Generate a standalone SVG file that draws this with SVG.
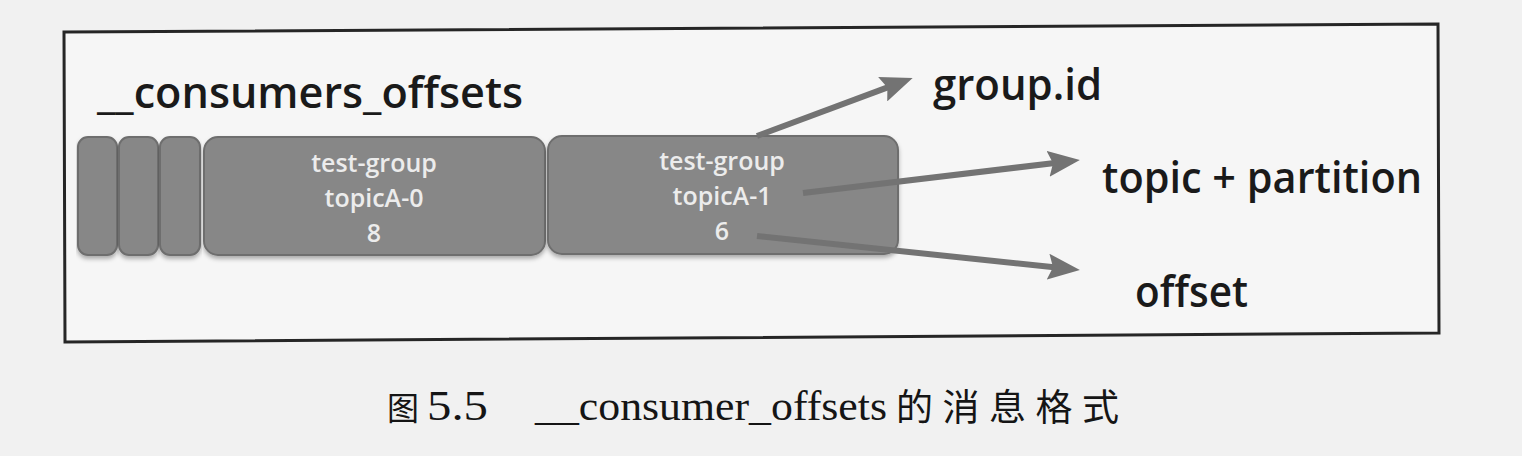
<svg xmlns="http://www.w3.org/2000/svg" width="1522" height="456" viewBox="0 0 1522 456">
  <style>
    .frame { fill: #f6f6f6; stroke: #262626; stroke-width: 3; }
    .blk { fill: #878787; stroke: #6e6e6e; stroke-width: 2; }
    .btxt { font-family: "Open Sans", "Liberation Sans", sans-serif; font-weight: 600; font-size: 25px; fill: #ececec; text-anchor: middle; }
    .lbl { font-family: "Open Sans", "Liberation Sans", sans-serif; font-weight: 600; font-size: 44px; fill: #1a1a1a; }
    .arr { stroke: #737373; stroke-width: 6; fill: none; stroke-linecap: butt; }
    .cap { font-family: "Liberation Serif", "Noto Sans CJK SC", serif; font-size: 43px; fill: #151515; }
    .capcjk { font-family: "Noto Sans CJK SC", "Liberation Serif", serif; fill: #151515; }
  </style>
  <defs>
    <marker id="ah" markerUnits="userSpaceOnUse" viewBox="0 0 32 26" markerWidth="32" markerHeight="26" refX="11" refY="13" orient="auto">
      <path d="M0,0 L32,13 L0,26 L5,13 z" fill="#737373"/>
    </marker>
    <filter id="sh" x="-5%" y="-10%" width="110%" height="130%">
      <feDropShadow dx="0" dy="3" stdDeviation="2" flood-color="#000" flood-opacity="0.3"/>
    </filter>
  </defs>

  <rect x="0" y="0" width="1522" height="456" fill="#f1f1f1"/>

  <g id="frame">
    <polygon class="frame" points="64,32 1438,24 1439,333 65,342"/>
  </g>

  <g id="title">
    <text class="lbl" x="97" y="108" textLength="426" lengthAdjust="spacingAndGlyphs">__consumers_offsets</text>
  </g>

  <g id="seg1" filter="url(#sh)">
    <rect class="blk" x="78" y="137" width="39" height="118" rx="10"/>
  </g>
  <g id="seg2" filter="url(#sh)">
    <rect class="blk" x="119" y="137" width="39" height="118" rx="10"/>
  </g>
  <g id="seg3" filter="url(#sh)">
    <rect class="blk" x="160" y="137" width="40" height="118" rx="10"/>
  </g>

  <g id="msg0">
    <rect class="blk" x="204" y="137" width="341" height="118" rx="14" filter="url(#sh)"/>
    <text class="btxt" x="374" y="172">test-group</text>
    <text class="btxt" x="374" y="207">topicA-0</text>
    <text class="btxt" x="374" y="242">8</text>
  </g>

  <g id="msg1">
    <rect class="blk" x="548" y="136" width="350" height="118" rx="14" filter="url(#sh)"/>
    <text class="btxt" x="722" y="170">test-group</text>
    <text class="btxt" x="722" y="205">topicA-1</text>
    <text class="btxt" x="722" y="240">6</text>
  </g>

  <g id="connectors">
    <line class="arr" x1="757" y1="136" x2="893" y2="85.4" marker-end="url(#ah)"/>
    <line class="arr" x1="803" y1="193" x2="1059" y2="162.5" marker-end="url(#ah)"/>
    <line class="arr" x1="757" y1="236" x2="1059" y2="267.8" marker-end="url(#ah)"/>
  </g>

  <g id="label-groupid">
    <text class="lbl" x="933" y="100" textLength="169" lengthAdjust="spacingAndGlyphs">group.id</text>
  </g>
  <g id="label-topic">
    <text class="lbl" x="1102" y="193" textLength="320" lengthAdjust="spacingAndGlyphs">topic + partition</text>
  </g>
  <g id="label-offset">
    <text class="lbl" x="1135" y="307" textLength="113" lengthAdjust="spacingAndGlyphs">offset</text>
  </g>

  <g id="caption">
    <text class="capcjk" x="387" y="420" font-size="32">图</text>
    <text class="cap" x="427" y="420" textLength="61" lengthAdjust="spacingAndGlyphs">5.5</text>
    <text class="cap" x="535" y="420" textLength="352" lengthAdjust="spacingAndGlyphs">__consumer_offsets</text>
    <text class="capcjk" x="896" y="421" font-size="37" letter-spacing="9.5">的消息格式</text>
  </g>
</svg>
